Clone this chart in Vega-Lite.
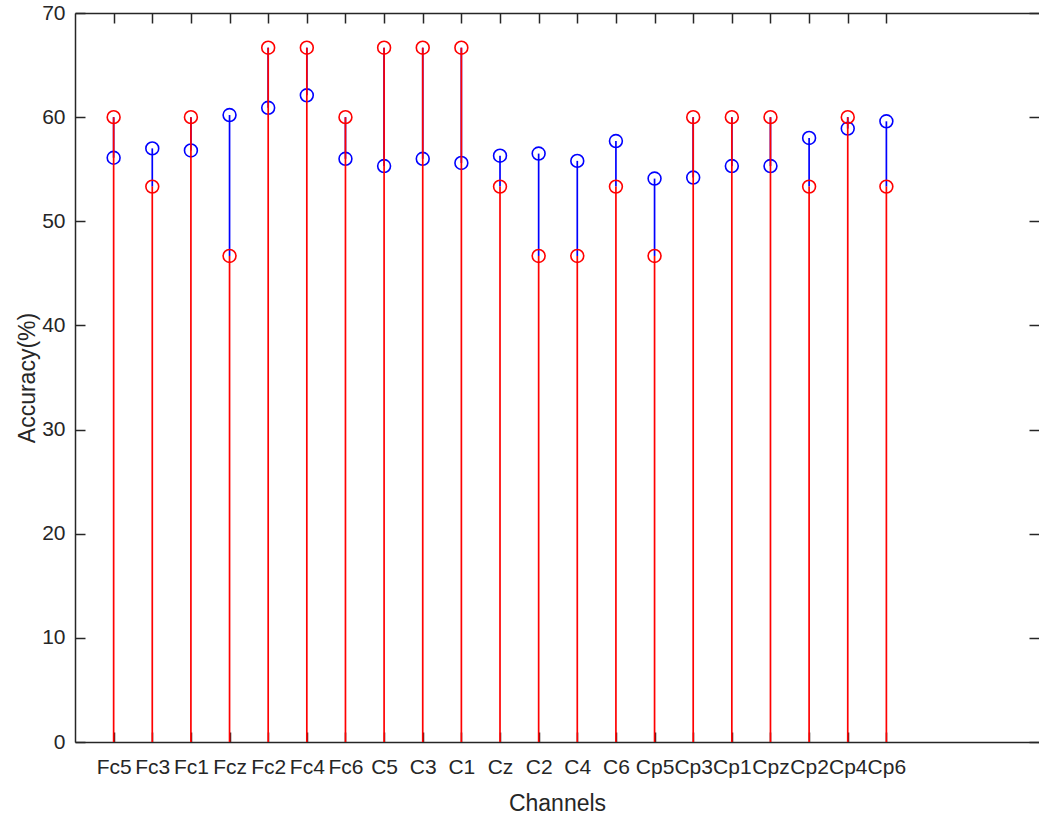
{
  "$schema": "https://vega.github.io/schema/vega-lite/v6.json",
  "autosize": {"type": "none"},
  "padding": {"left": 75, "top": 13, "right": 0, "bottom": 76},
  "width": 964,
  "height": 729,
  "background": "white",
  "config": {
    "view": {"stroke": null},
    "font": "Liberation Sans",
    "axis": {
      "domainColor": "#262626",
      "domainWidth": 1.5,
      "tickColor": "#262626",
      "tickWidth": 1.5,
      "labelColor": "#262626",
      "titleColor": "#262626",
      "labelFont": "Liberation Sans",
      "titleFont": "Liberation Sans",
      "labelFontSize": 21,
      "titleFontSize": 23,
      "titleFontWeight": "normal",
      "grid": false
    }
  },
  "data": {
    "values": [
      {"i": 1, "ch": "Fc5", "blue": 56.1, "red": 60.0},
      {"i": 2, "ch": "Fc3", "blue": 57.0, "red": 53.33},
      {"i": 3, "ch": "Fc1", "blue": 56.8, "red": 60.0},
      {"i": 4, "ch": "Fcz", "blue": 60.2, "red": 46.67},
      {"i": 5, "ch": "Fc2", "blue": 60.9, "red": 66.67},
      {"i": 6, "ch": "Fc4", "blue": 62.1, "red": 66.67},
      {"i": 7, "ch": "Fc6", "blue": 56.0, "red": 60.0},
      {"i": 8, "ch": "C5", "blue": 55.3, "red": 66.67},
      {"i": 9, "ch": "C3", "blue": 56.0, "red": 66.67},
      {"i": 10, "ch": "C1", "blue": 55.6, "red": 66.67},
      {"i": 11, "ch": "Cz", "blue": 56.3, "red": 53.33},
      {"i": 12, "ch": "C2", "blue": 56.5, "red": 46.67},
      {"i": 13, "ch": "C4", "blue": 55.8, "red": 46.67},
      {"i": 14, "ch": "C6", "blue": 57.7, "red": 53.33},
      {"i": 15, "ch": "Cp5", "blue": 54.1, "red": 46.67},
      {"i": 16, "ch": "Cp3", "blue": 54.2, "red": 60.0},
      {"i": 17, "ch": "Cp1", "blue": 55.3, "red": 60.0},
      {"i": 18, "ch": "Cpz", "blue": 55.3, "red": 60.0},
      {"i": 19, "ch": "Cp2", "blue": 58.0, "red": 53.33},
      {"i": 20, "ch": "Cp4", "blue": 58.9, "red": 60.0},
      {"i": 21, "ch": "Cp6", "blue": 59.6, "red": 53.33}
    ]
  },
  "resolve": {"axis": {"x": "independent", "y": "independent"}},
  "layer": [
    {
      "mark": {"type": "rule", "color": "#0000ff", "strokeWidth": 1.7},
      "encoding": {
        "x": {
          "field": "i", "type": "quantitative",
          "scale": {"domain": [0, 24.95], "nice": false, "zero": false},
          "axis": {
            "orient": "bottom",
            "title": "Channels",
            "values": [1,2,3,4,5,6,7,8,9,10,11,12,13,14,15,16,17,18,19,20,21],
            "labelExpr": "['Fc5','Fc3','Fc1','Fcz','Fc2','Fc4','Fc6','C5','C3','C1','Cz','C2','C4','C6','Cp5','Cp3','Cp1','Cpz','Cp2','Cp4','Cp6'][datum.value - 1]",
            "tickSize": -10,
            "labelPadding": 24,
            "labelFlush": false,
            "labelOverlap": false,
            "titleY": 68,
            "titleBaseline": "alphabetic"
          }
        },
        "y": {
          "field": "blue", "type": "quantitative",
          "scale": {"domain": [0, 70], "nice": false},
          "axis": {
            "orient": "left",
            "title": "Accuracy(%)",
            "values": [0,10,20,30,40,50,60,70],
            "tickSize": -10,
            "labelPadding": 20,
            "labelFlush": false,
            "titleX": -41,
            "titleY": 364.5,
            "titleBaseline": "alphabetic"
          }
        },
        "y2": {"field": "red"}
      }
    },
    {
      "mark": {"type": "point", "shape": "circle", "filled": false, "color": "#0000ff", "strokeWidth": 1.6, "size": 165, "opacity": 1},
      "encoding": {
        "x": {
          "field": "i", "type": "quantitative",
          "scale": {"domain": [0, 24.95], "nice": false, "zero": false},
          "axis": {
            "orient": "top",
            "title": null,
            "labels": false,
            "values": [1,2,3,4,5,6,7,8,9,10,11,12,13,14,15,16,17,18,19,20,21],
            "tickSize": -10
          }
        },
        "y": {
          "field": "blue", "type": "quantitative",
          "scale": {"domain": [0, 70], "nice": false},
          "axis": {
            "orient": "right",
            "title": null,
            "labels": false,
            "domain": false,
            "values": [0,10,20,30,40,50,60,70],
            "tickSize": -10
          }
        }
      }
    },
    {
      "mark": {"type": "rule", "color": "#ff0000", "strokeWidth": 1.7},
      "encoding": {
        "x": {"field": "i", "type": "quantitative", "scale": {"domain": [0, 24.95], "nice": false, "zero": false}, "axis": null},
        "y": {"field": "red", "type": "quantitative", "scale": {"domain": [0, 70], "nice": false}, "axis": null},
        "y2": {"datum": 0}
      }
    },
    {
      "mark": {"type": "point", "shape": "circle", "filled": false, "color": "#ff0000", "strokeWidth": 1.6, "size": 165, "opacity": 1},
      "encoding": {
        "x": {"field": "i", "type": "quantitative", "scale": {"domain": [0, 24.95], "nice": false, "zero": false}, "axis": null},
        "y": {"field": "red", "type": "quantitative", "scale": {"domain": [0, 70], "nice": false}, "axis": null}
      }
    }
  ]
}
